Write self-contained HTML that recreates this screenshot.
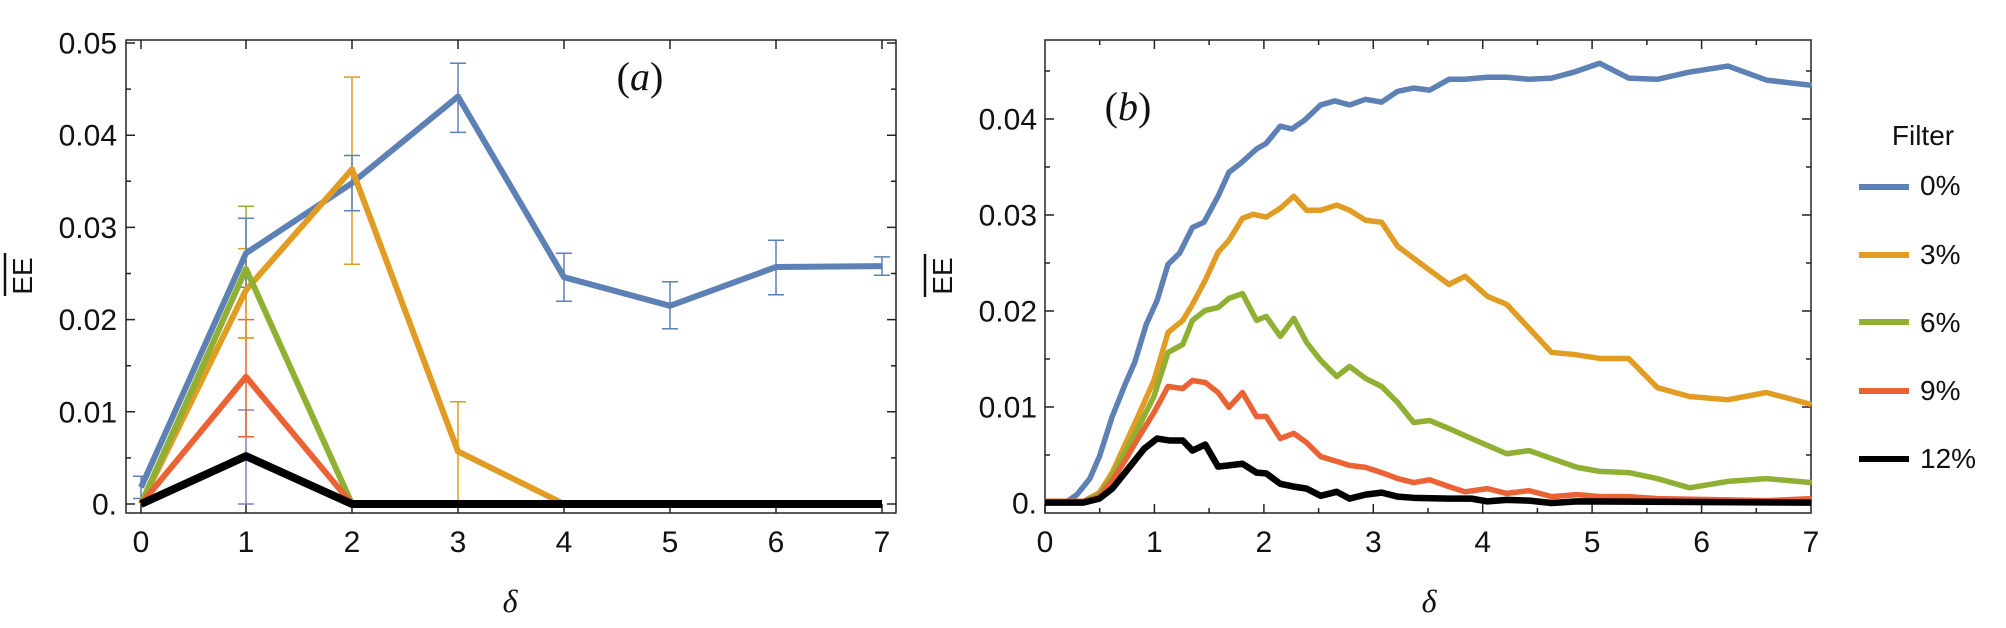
<!DOCTYPE html>
<html><head><style>
html,body{margin:0;padding:0;background:#fff}
svg{display:block}
text{font-family:"Liberation Sans",sans-serif;fill:#111}
text.serif{font-family:"Liberation Serif",serif}
</style></head><body>
<svg width="2006" height="628" viewBox="0 0 2006 628" xmlns="http://www.w3.org/2000/svg">
<!-- Panel A -->
<g fill="none" stroke-linejoin="round">
<g stroke="#222" stroke-width="1.5">
<rect x="126" y="40" width="770" height="473"/>
<path d="M141 513v-9M246 513v-9M352 513v-9M458 513v-9M564 513v-9M670 513v-9M776 513v-9M882 513v-9
M141 40v9M246 40v9M352 40v9M458 40v9M564 40v9M670 40v9M776 40v9M882 40v9
M126 504h9M126 411.8h9M126 319.6h9M126 227.4h9M126 135.2h9M126 43h9
M126 457.9h5M126 365.7h5M126 273.5h5M126 181.3h5M126 89.1h5
M896 504h-9M896 411.8h-9M896 319.6h-9M896 227.4h-9M896 135.2h-9M896 43h-9
M896 457.9h-5M896 365.7h-5M896 273.5h-5M896 181.3h-5M896 89.1h-5"/>
</g>
<g stroke-width="1.5">
<path stroke="#8a7fc0" d="M246 504V410M238 504h16M238 410h16"/>
<path stroke="#eb6235" d="M246 436.7V319.6M238 436.7h16M238 319.6h16"/>
<path stroke="#8fb032" d="M246 338V206.2M238 338h16M238 206.2h16"/>
<path stroke="#e19c24" d="M246 338V248.6M238 338h16M238 248.6h16M352 264.3V77.1M344 264.3h16M344 77.1h16M458 504V401.7M450 401.7h16"/>
<path stroke="#5e81b5" d="M141 498.5V476.3M133 498.5h16M133 476.3h16M246 287.3V218.2M238 287.3h16M238 218.2h16M352 210.8V155.5M344 210.8h16M344 155.5h16M458 132.4V63.3M450 132.4h16M450 63.3h16M564 301.2V253.2M556 301.2h16M556 253.2h16M670 328.8V281.8M662 328.8h16M662 281.8h16M776 294.7V240.3M768 294.7h16M768 240.3h16M882 275.3V256.9M874 275.3h16M874 256.9h16"/>
</g>
<g stroke-width="6">
<polyline stroke="#5e81b5" points="141,487.4 246,253.2 352,183.1 458,96.5 564,277.2 670,305.8 776,267 882,266.1"/>
<polyline stroke="#e19c24" points="141,504 246,290.1 352,169.3 458,451.4 564,504"/>
<polyline stroke="#8fb032" points="141,504 246,268.9 352,504"/>
<polyline stroke="#eb6235" points="141,504 246,376.8 352,504"/>
<polyline stroke="#000" stroke-width="8" points="141,504 246,456.1 352,504 882,504"/>
</g>
</g>
<g font-size="30" text-anchor="middle">
<text x="141" y="552">0</text><text x="246" y="552">1</text><text x="352" y="552">2</text><text x="458" y="552">3</text><text x="564" y="552">4</text><text x="670" y="552">5</text><text x="776" y="552">6</text><text x="882" y="552">7</text>
</g>
<g font-size="30" text-anchor="end">
<text x="117" y="514.5">0.</text><text x="117" y="422.3">0.01</text><text x="117" y="330.1">0.02</text><text x="117" y="237.9">0.03</text><text x="117" y="145.7">0.04</text><text x="117" y="53.5">0.05</text>
</g>
<text class="serif" x="510" y="612" font-size="32" font-style="italic" text-anchor="middle">δ</text>
<text transform="translate(32,276) rotate(-90)" font-size="28" text-anchor="middle">EE</text>
<line x1="5" y1="253" x2="5" y2="296" stroke="#111" stroke-width="2.5"/>
<text class="serif" x="640" y="90" font-size="40" text-anchor="middle">(<tspan font-style="italic">a</tspan>)</text>

<!-- Panel B -->
<g fill="none">
<g stroke="#222" stroke-width="1.5">
<rect x="1045" y="40" width="766" height="473"/>
<path d="M1045 513v-9M1154.4 513v-9M1263.9 513v-9M1373.3 513v-9M1482.7 513v-9M1592.1 513v-9M1701.6 513v-9
M1099.7 513v-5M1209.1 513v-5M1318.6 513v-5M1428 513v-5M1537.4 513v-5M1646.9 513v-5M1756.3 513v-5
M1154.4 40v9M1263.9 40v9M1373.3 40v9M1482.7 40v9M1592.1 40v9M1701.6 40v9
M1099.7 40v5M1209.1 40v5M1318.6 40v5M1428 40v5M1537.4 40v5M1646.9 40v5M1756.3 40v5
M1045 503h9M1045 407h9M1045 311h9M1045 215h9M1045 119h9
M1045 455h5M1045 359h5M1045 263h5M1045 167h5M1045 71h5
M1811 503h-9M1811 407h-9M1811 311h-9M1811 215h-9M1811 119h-9
M1811 455h-5M1811 359h-5M1811 263h-5M1811 167h-5M1811 71h-5"/>
</g>
<g transform="translate(1000,0) scale(0.6414,0.4005)" stroke-width="5.5" stroke-linejoin="round">
<polyline vector-effect="non-scaling-stroke" stroke="#5e81b5" points="70,1252 105,1252 120,1235 140,1195 155,1140 175,1040 195,960 210,905 228,810 245,750 262,660 280,632 300,568 318,555 340,490 357,430 375,408 400,372 415,358 437,315 455,322 475,300 500,262 522,252 545,262 570,248 595,255 620,228 645,220 670,225 700,198 725,198 760,193 790,193 825,198 860,195 895,180 935,158 980,195 1025,198 1075,180 1135,165 1195,200 1265,213"/>
<polyline vector-effect="non-scaling-stroke" stroke="#e19c24" points="70,1252 130,1252 155,1230 175,1180 195,1110 215,1040 240,950 262,830 285,800 300,760 320,700 340,630 357,600 378,545 395,535 415,542 437,520 458,490 478,525 500,525 525,512 545,525 570,550 595,555 620,615 645,645 670,675 700,710 725,690 760,740 790,760 825,820 860,880 895,885 935,895 980,895 1025,968 1075,990 1135,998 1195,980 1265,1010"/>
<polyline vector-effect="non-scaling-stroke" stroke="#8fb032" points="70,1252 130,1252 155,1235 175,1190 195,1130 215,1070 240,990 262,880 285,860 300,800 320,775 340,768 357,745 378,733 400,800 415,790 437,840 458,795 478,855 500,900 525,940 545,915 570,945 595,965 620,1005 645,1055 670,1050 700,1070 735,1095 790,1133 825,1125 860,1145 900,1167 935,1177 980,1180 1025,1195 1075,1218 1135,1202 1195,1195 1265,1205"/>
<polyline vector-effect="non-scaling-stroke" stroke="#eb6235" points="70,1252 130,1252 155,1240 175,1200 195,1150 215,1095 240,1030 262,965 285,970 300,950 320,955 340,980 357,1017 378,980 400,1040 415,1040 437,1095 458,1082 478,1105 500,1140 525,1152 545,1162 570,1167 595,1180 620,1195 645,1205 670,1198 700,1215 725,1228 760,1220 790,1232 825,1225 860,1240 900,1235 935,1240 980,1240 1025,1245 1135,1248 1195,1250 1265,1245"/>
<polyline vector-effect="non-scaling-stroke" stroke="#000" stroke-width="6.5" points="70,1255 130,1255 155,1245 175,1220 200,1170 225,1120 245,1095 265,1100 285,1100 300,1125 320,1110 340,1165 357,1162 378,1158 400,1180 415,1182 437,1208 458,1215 478,1220 500,1238 525,1228 545,1245 570,1235 595,1230 620,1240 645,1243 700,1245 735,1245 760,1252 790,1248 825,1250 860,1256 900,1252 1265,1255"/>
</g>
</g>
<g font-size="30" text-anchor="middle">
<text x="1045" y="552">0</text><text x="1154.4" y="552">1</text><text x="1263.9" y="552">2</text><text x="1373.3" y="552">3</text><text x="1482.7" y="552">4</text><text x="1592.1" y="552">5</text><text x="1701.6" y="552">6</text><text x="1811" y="552">7</text>
</g>
<g font-size="30" text-anchor="end">
<text x="1037" y="513.5">0.</text><text x="1037" y="417.5">0.01</text><text x="1037" y="321.5">0.02</text><text x="1037" y="225.5">0.03</text><text x="1037" y="129.5">0.04</text>
</g>
<text class="serif" x="1429" y="612" font-size="32" font-style="italic" text-anchor="middle">δ</text>
<text transform="translate(952,276) rotate(-90)" font-size="28" text-anchor="middle">EE</text>
<line x1="925" y1="254" x2="925" y2="297" stroke="#111" stroke-width="2.5"/>
<text class="serif" x="1128" y="120" font-size="40" text-anchor="middle">(<tspan font-style="italic">b</tspan>)</text>

<!-- Legend -->
<text x="1923" y="145" font-size="28" text-anchor="middle">Filter</text>
<g stroke-width="6">
<line x1="1859" y1="187" x2="1909" y2="187" stroke="#5e81b5"/>
<line x1="1859" y1="255" x2="1909" y2="255" stroke="#e19c24"/>
<line x1="1859" y1="322" x2="1909" y2="322" stroke="#8fb032"/>
<line x1="1859" y1="391" x2="1909" y2="391" stroke="#eb6235"/>
<line x1="1859" y1="459" x2="1909" y2="459" stroke="#000"/>
</g>
<g font-size="28">
<text x="1920" y="195">0%</text><text x="1920" y="264">3%</text><text x="1920" y="332">6%</text><text x="1920" y="400">9%</text><text x="1920" y="468">12%</text>
</g>
</svg>
</body></html>
